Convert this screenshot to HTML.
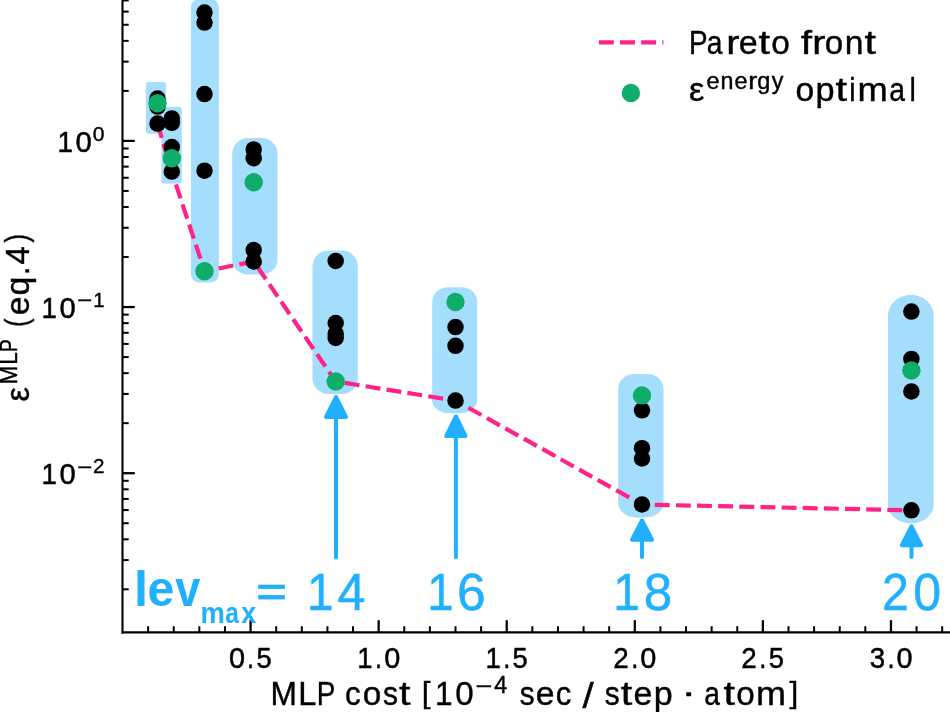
<!DOCTYPE html><html><head><meta charset="utf-8"><style>html,body{margin:0;padding:0;background:#fff;overflow:hidden}svg{display:block;will-change:transform}text{font-family:"Liberation Sans",sans-serif}</style></head><body>
<svg width="950" height="712" viewBox="0 0 950 712">
<rect width="950" height="712" fill="#fff"/>
<path d="M148.40,82.10 L163.50,82.10 C164.88,82.10 166.00,83.22 166.00,84.60 L166.00,131.30 C166.00,132.68 164.88,133.80 163.50,133.80 L148.40,133.80 C147.02,133.80 145.90,132.68 145.90,131.30 L145.90,84.60 C145.90,83.22 147.02,82.10 148.40,82.10 Z" fill="#a5defc"/>
<path d="M163.90,106.80 L179.30,106.80 C180.68,106.80 181.80,107.92 181.80,109.30 L181.80,180.90 C181.80,182.28 180.68,183.40 179.30,183.40 L163.90,183.40 C162.52,183.40 161.40,182.28 161.40,180.90 L161.40,109.30 C161.40,107.92 162.52,106.80 163.90,106.80 Z" fill="#a5defc"/>
<path d="M199.90,-1.50 L209.80,-1.50 C214.77,-1.50 218.80,2.53 218.80,7.50 L218.80,274.00 C218.80,278.69 214.99,282.50 210.30,282.50 L199.40,282.50 C194.71,282.50 190.90,278.69 190.90,274.00 L190.90,7.50 C190.90,2.53 194.93,-1.50 199.90,-1.50 Z" fill="#a5defc"/>
<path d="M247.70,137.90 L262.00,137.90 C270.56,137.90 277.50,145.06 277.50,153.90 L277.50,260.10 C277.50,268.11 270.34,274.60 261.50,274.60 L248.20,274.60 C239.36,274.60 232.20,268.11 232.20,260.10 L232.20,153.90 C232.20,145.06 239.14,137.90 247.70,137.90 Z" fill="#a5defc"/>
<path d="M327.50,250.50 L342.80,250.50 C351.08,250.50 357.80,257.89 357.80,267.00 L357.80,378.50 C357.80,387.06 350.64,394.00 341.80,394.00 L328.50,394.00 C319.66,394.00 312.50,387.06 312.50,378.50 L312.50,267.00 C312.50,257.89 319.22,250.50 327.50,250.50 Z" fill="#a5defc"/>
<path d="M447.70,287.30 L461.70,287.30 C470.26,287.30 477.20,293.79 477.20,301.80 L477.20,400.30 C477.20,407.48 469.59,413.30 460.20,413.30 L449.20,413.30 C439.81,413.30 432.20,407.48 432.20,400.30 L432.20,301.80 C432.20,293.79 439.14,287.30 447.70,287.30 Z" fill="#a5defc"/>
<path d="M634.20,373.90 L647.50,373.90 C656.34,373.90 663.50,380.62 663.50,388.90 L663.50,503.00 C663.50,511.01 655.44,517.50 645.50,517.50 L636.20,517.50 C626.26,517.50 618.20,511.01 618.20,503.00 L618.20,388.90 C618.20,380.62 625.36,373.90 634.20,373.90 Z" fill="#a5defc"/>
<path d="M910.00,295.10 L911.70,295.10 C923.85,295.10 933.70,304.50 933.70,316.10 L933.70,504.40 C933.70,514.89 923.49,523.40 910.90,523.40 L910.80,523.40 C898.21,523.40 888.00,514.89 888.00,504.40 L888.00,316.10 C888.00,304.50 897.85,295.10 910.00,295.10 Z" fill="#a5defc"/>
<polyline points="157.5,123.6 171.7,171.6 204.6,271.2 253.8,261.5 335.7,381.5 455.6,400.6 641.9,504.5 911.4,510.3" fill="none" stroke="#ff2288" stroke-width="4.2" stroke-dasharray="14.9 6.25" stroke-linejoin="round"/>
<circle cx="157.5" cy="98.6" r="8.25" fill="#000"/>
<circle cx="157.5" cy="106.6" r="8.25" fill="#000"/>
<circle cx="157.5" cy="123.6" r="8.25" fill="#000"/>
<circle cx="171.8" cy="118.4" r="8.25" fill="#000"/>
<circle cx="171.8" cy="122.8" r="8.25" fill="#000"/>
<circle cx="171.8" cy="147.0" r="8.25" fill="#000"/>
<circle cx="171.8" cy="171.6" r="8.25" fill="#000"/>
<circle cx="204.5" cy="12.5" r="8.25" fill="#000"/>
<circle cx="204.5" cy="22.6" r="8.25" fill="#000"/>
<circle cx="204.5" cy="94.1" r="8.25" fill="#000"/>
<circle cx="204.5" cy="170.7" r="8.25" fill="#000"/>
<circle cx="253.7" cy="149.4" r="8.25" fill="#000"/>
<circle cx="253.7" cy="158.2" r="8.25" fill="#000"/>
<circle cx="253.7" cy="250.1" r="8.25" fill="#000"/>
<circle cx="253.7" cy="261.5" r="8.25" fill="#000"/>
<circle cx="335.7" cy="260.9" r="8.25" fill="#000"/>
<circle cx="335.7" cy="323.0" r="8.25" fill="#000"/>
<circle cx="335.7" cy="333.6" r="8.25" fill="#000"/>
<circle cx="335.7" cy="337.9" r="8.25" fill="#000"/>
<circle cx="455.5" cy="327.1" r="8.25" fill="#000"/>
<circle cx="455.5" cy="345.8" r="8.25" fill="#000"/>
<circle cx="455.5" cy="400.6" r="8.25" fill="#000"/>
<circle cx="642.0" cy="410.3" r="8.25" fill="#000"/>
<circle cx="642.0" cy="448.2" r="8.25" fill="#000"/>
<circle cx="642.0" cy="458.5" r="8.25" fill="#000"/>
<circle cx="642.0" cy="504.5" r="8.25" fill="#000"/>
<circle cx="911.4" cy="311.6" r="8.25" fill="#000"/>
<circle cx="911.4" cy="358.9" r="8.25" fill="#000"/>
<circle cx="911.4" cy="391.4" r="8.25" fill="#000"/>
<circle cx="911.4" cy="510.3" r="8.25" fill="#000"/>
<circle cx="157.5" cy="103.3" r="9.2" fill="#10ac69"/>
<circle cx="171.8" cy="158.3" r="9.2" fill="#10ac69"/>
<circle cx="204.5" cy="271.2" r="9.2" fill="#10ac69"/>
<circle cx="253.7" cy="182.2" r="9.2" fill="#10ac69"/>
<circle cx="335.7" cy="381.5" r="9.2" fill="#10ac69"/>
<circle cx="455.5" cy="302.0" r="9.2" fill="#10ac69"/>
<circle cx="642.0" cy="395.4" r="9.2" fill="#10ac69"/>
<circle cx="911.4" cy="370.5" r="9.2" fill="#10ac69"/>
<line x1="336.0" y1="557.5" x2="336.0" y2="415.9" stroke="#20b0ff" stroke-width="4" stroke-linecap="round"/>
<polygon points="336.0,397.1 326.0,416.9 346.0,416.9" fill="#20b0ff" stroke="#20b0ff" stroke-width="4" stroke-linejoin="round"/>
<line x1="455.9" y1="557.3" x2="455.9" y2="435.1" stroke="#20b0ff" stroke-width="4" stroke-linecap="round"/>
<polygon points="455.9,416.5 446.2,436.1 465.59999999999997,436.1" fill="#20b0ff" stroke="#20b0ff" stroke-width="4" stroke-linejoin="round"/>
<line x1="642.0" y1="557.1" x2="642.0" y2="538.7" stroke="#20b0ff" stroke-width="4" stroke-linecap="round"/>
<polygon points="642.0,520.5 632.0,539.7 652.0,539.7" fill="#20b0ff" stroke="#20b0ff" stroke-width="4" stroke-linejoin="round"/>
<line x1="911.5" y1="556.9" x2="911.5" y2="544.2" stroke="#20b0ff" stroke-width="4" stroke-linecap="round"/>
<polygon points="911.5,526.4 901.9,545.2 921.1,545.2" fill="#20b0ff" stroke="#20b0ff" stroke-width="4" stroke-linejoin="round"/>
<g stroke="#000" fill="none">
<line x1="122.5" y1="0" x2="122.5" y2="633.5" stroke-width="2.1"/>
<line x1="121.45" y1="632.4" x2="950" y2="632.4" stroke-width="2.1"/>
<line x1="148.12" y1="632.4" x2="148.12" y2="626.2" stroke-width="2.0"/>
<line x1="173.73" y1="632.4" x2="173.73" y2="626.2" stroke-width="2.0"/>
<line x1="199.34" y1="632.4" x2="199.34" y2="626.2" stroke-width="2.0"/>
<line x1="224.96" y1="632.4" x2="224.96" y2="626.2" stroke-width="2.0"/>
<line x1="250.57" y1="632.4" x2="250.57" y2="620.2" stroke-width="2.25"/>
<line x1="276.19" y1="632.4" x2="276.19" y2="626.2" stroke-width="2.0"/>
<line x1="301.80" y1="632.4" x2="301.80" y2="626.2" stroke-width="2.0"/>
<line x1="327.42" y1="632.4" x2="327.42" y2="626.2" stroke-width="2.0"/>
<line x1="353.03" y1="632.4" x2="353.03" y2="626.2" stroke-width="2.0"/>
<line x1="378.65" y1="632.4" x2="378.65" y2="620.2" stroke-width="2.25"/>
<line x1="404.26" y1="632.4" x2="404.26" y2="626.2" stroke-width="2.0"/>
<line x1="429.88" y1="632.4" x2="429.88" y2="626.2" stroke-width="2.0"/>
<line x1="455.50" y1="632.4" x2="455.50" y2="626.2" stroke-width="2.0"/>
<line x1="481.11" y1="632.4" x2="481.11" y2="626.2" stroke-width="2.0"/>
<line x1="506.72" y1="632.4" x2="506.72" y2="620.2" stroke-width="2.25"/>
<line x1="532.34" y1="632.4" x2="532.34" y2="626.2" stroke-width="2.0"/>
<line x1="557.95" y1="632.4" x2="557.95" y2="626.2" stroke-width="2.0"/>
<line x1="583.57" y1="632.4" x2="583.57" y2="626.2" stroke-width="2.0"/>
<line x1="609.18" y1="632.4" x2="609.18" y2="626.2" stroke-width="2.0"/>
<line x1="634.80" y1="632.4" x2="634.80" y2="620.2" stroke-width="2.25"/>
<line x1="660.41" y1="632.4" x2="660.41" y2="626.2" stroke-width="2.0"/>
<line x1="686.03" y1="632.4" x2="686.03" y2="626.2" stroke-width="2.0"/>
<line x1="711.64" y1="632.4" x2="711.64" y2="626.2" stroke-width="2.0"/>
<line x1="737.26" y1="632.4" x2="737.26" y2="626.2" stroke-width="2.0"/>
<line x1="762.88" y1="632.4" x2="762.88" y2="620.2" stroke-width="2.25"/>
<line x1="788.49" y1="632.4" x2="788.49" y2="626.2" stroke-width="2.0"/>
<line x1="814.11" y1="632.4" x2="814.11" y2="626.2" stroke-width="2.0"/>
<line x1="839.72" y1="632.4" x2="839.72" y2="626.2" stroke-width="2.0"/>
<line x1="865.33" y1="632.4" x2="865.33" y2="626.2" stroke-width="2.0"/>
<line x1="890.95" y1="632.4" x2="890.95" y2="620.2" stroke-width="2.25"/>
<line x1="916.56" y1="632.4" x2="916.56" y2="626.2" stroke-width="2.0"/>
<line x1="942.18" y1="632.4" x2="942.18" y2="626.2" stroke-width="2.0"/>
<line x1="122.5" y1="589.33" x2="128.70" y2="589.33" stroke-width="2.0"/>
<line x1="122.5" y1="560.08" x2="128.70" y2="560.08" stroke-width="2.0"/>
<line x1="122.5" y1="539.32" x2="128.70" y2="539.32" stroke-width="2.0"/>
<line x1="122.5" y1="523.22" x2="128.70" y2="523.22" stroke-width="2.0"/>
<line x1="122.5" y1="510.06" x2="128.70" y2="510.06" stroke-width="2.0"/>
<line x1="122.5" y1="498.94" x2="128.70" y2="498.94" stroke-width="2.0"/>
<line x1="122.5" y1="489.30" x2="128.70" y2="489.30" stroke-width="2.0"/>
<line x1="122.5" y1="480.80" x2="128.70" y2="480.80" stroke-width="2.0"/>
<line x1="122.5" y1="473.20" x2="134.80" y2="473.20" stroke-width="2.25"/>
<line x1="122.5" y1="423.18" x2="128.70" y2="423.18" stroke-width="2.0"/>
<line x1="122.5" y1="393.93" x2="128.70" y2="393.93" stroke-width="2.0"/>
<line x1="122.5" y1="373.17" x2="128.70" y2="373.17" stroke-width="2.0"/>
<line x1="122.5" y1="357.07" x2="128.70" y2="357.07" stroke-width="2.0"/>
<line x1="122.5" y1="343.91" x2="128.70" y2="343.91" stroke-width="2.0"/>
<line x1="122.5" y1="332.79" x2="128.70" y2="332.79" stroke-width="2.0"/>
<line x1="122.5" y1="323.15" x2="128.70" y2="323.15" stroke-width="2.0"/>
<line x1="122.5" y1="314.65" x2="128.70" y2="314.65" stroke-width="2.0"/>
<line x1="122.5" y1="307.05" x2="134.80" y2="307.05" stroke-width="2.25"/>
<line x1="122.5" y1="257.03" x2="128.70" y2="257.03" stroke-width="2.0"/>
<line x1="122.5" y1="227.78" x2="128.70" y2="227.78" stroke-width="2.0"/>
<line x1="122.5" y1="207.02" x2="128.70" y2="207.02" stroke-width="2.0"/>
<line x1="122.5" y1="190.92" x2="128.70" y2="190.92" stroke-width="2.0"/>
<line x1="122.5" y1="177.76" x2="128.70" y2="177.76" stroke-width="2.0"/>
<line x1="122.5" y1="166.64" x2="128.70" y2="166.64" stroke-width="2.0"/>
<line x1="122.5" y1="157.00" x2="128.70" y2="157.00" stroke-width="2.0"/>
<line x1="122.5" y1="148.50" x2="128.70" y2="148.50" stroke-width="2.0"/>
<line x1="122.5" y1="140.90" x2="134.80" y2="140.90" stroke-width="2.25"/>
<line x1="122.5" y1="90.88" x2="128.70" y2="90.88" stroke-width="2.0"/>
<line x1="122.5" y1="61.63" x2="128.70" y2="61.63" stroke-width="2.0"/>
<line x1="122.5" y1="40.87" x2="128.70" y2="40.87" stroke-width="2.0"/>
<line x1="122.5" y1="24.77" x2="128.70" y2="24.77" stroke-width="2.0"/>
<line x1="122.5" y1="11.61" x2="128.70" y2="11.61" stroke-width="2.0"/>
<line x1="122.5" y1="0.49" x2="128.70" y2="0.49" stroke-width="2.0"/>
</g>
<text y="667.60" font-size="30.09" font-weight="normal" fill="#000" stroke="#000" stroke-width="0.5"><tspan x="228.99" textLength="16.07" lengthAdjust="spacingAndGlyphs">0</tspan><tspan x="247.02" textLength="7.08" lengthAdjust="spacingAndGlyphs">.</tspan><tspan x="256.44" textLength="15.13" lengthAdjust="spacingAndGlyphs">5</tspan></text>
<text y="667.60" font-size="30.09" font-weight="normal" fill="#000" stroke="#000" stroke-width="0.5"><tspan x="357.35" textLength="15.26" lengthAdjust="spacingAndGlyphs">1</tspan><tspan x="375.10" textLength="7.08" lengthAdjust="spacingAndGlyphs">.</tspan><tspan x="384.16" textLength="16.07" lengthAdjust="spacingAndGlyphs">0</tspan></text>
<text y="667.60" font-size="30.09" font-weight="normal" fill="#000" stroke="#000" stroke-width="0.5"><tspan x="485.42" textLength="15.26" lengthAdjust="spacingAndGlyphs">1</tspan><tspan x="503.17" textLength="7.08" lengthAdjust="spacingAndGlyphs">.</tspan><tspan x="512.59" textLength="15.13" lengthAdjust="spacingAndGlyphs">5</tspan></text>
<text y="667.60" font-size="30.09" font-weight="normal" fill="#000" stroke="#000" stroke-width="0.5"><tspan x="613.15" textLength="15.44" lengthAdjust="spacingAndGlyphs">2</tspan><tspan x="631.25" textLength="7.08" lengthAdjust="spacingAndGlyphs">.</tspan><tspan x="640.31" textLength="16.07" lengthAdjust="spacingAndGlyphs">0</tspan></text>
<text y="667.60" font-size="30.09" font-weight="normal" fill="#000" stroke="#000" stroke-width="0.5"><tspan x="741.23" textLength="15.44" lengthAdjust="spacingAndGlyphs">2</tspan><tspan x="759.32" textLength="7.08" lengthAdjust="spacingAndGlyphs">.</tspan><tspan x="768.74" textLength="15.13" lengthAdjust="spacingAndGlyphs">5</tspan></text>
<text y="667.60" font-size="30.09" font-weight="normal" fill="#000" stroke="#000" stroke-width="0.5"><tspan x="869.73" textLength="15.40" lengthAdjust="spacingAndGlyphs">3</tspan><tspan x="887.40" textLength="7.08" lengthAdjust="spacingAndGlyphs">.</tspan><tspan x="896.46" textLength="16.07" lengthAdjust="spacingAndGlyphs">0</tspan></text>
<text y="151.60" font-size="30.09" font-weight="normal" fill="#000" stroke="#000" stroke-width="0.5"><tspan x="57.53" textLength="15.50" lengthAdjust="spacingAndGlyphs">1</tspan><tspan x="75.58" textLength="16.32" lengthAdjust="spacingAndGlyphs">0</tspan></text>
<text y="140.50" font-size="21.06" font-weight="normal" fill="#000" stroke="#000" stroke-width="0.4"><tspan x="92.87" textLength="11.75" lengthAdjust="spacingAndGlyphs">0</tspan></text>
<text y="317.60" font-size="30.09" font-weight="normal" fill="#000" stroke="#000" stroke-width="0.5"><tspan x="41.44" textLength="15.39" lengthAdjust="spacingAndGlyphs">1</tspan><tspan x="59.38" textLength="16.21" lengthAdjust="spacingAndGlyphs">0</tspan></text>
<text y="306.80" font-size="21.06" font-weight="normal" fill="#000" stroke="#000" stroke-width="0.4"><tspan x="77.24" y="306.40" font-size="17.54" textLength="14.90" lengthAdjust="spacingAndGlyphs">−</tspan></text>
<text y="306.80" font-size="21.06" font-weight="normal" fill="#000" stroke="#000" stroke-width="0.4"><tspan x="93.35" textLength="11.35" lengthAdjust="spacingAndGlyphs">1</tspan></text>
<text y="483.80" font-size="30.09" font-weight="normal" fill="#000" stroke="#000" stroke-width="0.5"><tspan x="41.44" textLength="15.39" lengthAdjust="spacingAndGlyphs">1</tspan><tspan x="59.38" textLength="16.21" lengthAdjust="spacingAndGlyphs">0</tspan></text>
<text y="472.90" font-size="21.06" font-weight="normal" fill="#000" stroke="#000" stroke-width="0.4"><tspan x="77.24" y="472.50" font-size="17.54" textLength="14.90" lengthAdjust="spacingAndGlyphs">−</tspan></text>
<text y="472.90" font-size="21.06" font-weight="normal" fill="#000" stroke="#000" stroke-width="0.4"><tspan x="93.06" textLength="11.48" lengthAdjust="spacingAndGlyphs">2</tspan></text>
<line x1="598.9" y1="42.3" x2="663.4" y2="42.3" stroke="#ff2288" stroke-width="4.2" stroke-dasharray="14.9 6.25"/>
<text y="53.90" font-size="33.59" font-weight="normal" fill="#000" stroke="#000" stroke-width="0.4"><tspan x="688.92" textLength="18.56" lengthAdjust="spacingAndGlyphs">P</tspan><tspan x="706.80" textLength="15.73" lengthAdjust="spacingAndGlyphs">a</tspan><tspan x="726.16" textLength="13.26" lengthAdjust="spacingAndGlyphs">r</tspan><tspan x="738.78" textLength="18.94" lengthAdjust="spacingAndGlyphs">e</tspan><tspan x="758.56" textLength="11.56" lengthAdjust="spacingAndGlyphs">t</tspan><tspan x="771.37" textLength="18.64" lengthAdjust="spacingAndGlyphs">o</tspan></text>
<text y="53.90" font-size="33.59" font-weight="normal" fill="#000" stroke="#000" stroke-width="0.4"><tspan x="800.72" textLength="11.28" lengthAdjust="spacingAndGlyphs">f</tspan><tspan x="812.15" textLength="13.15" lengthAdjust="spacingAndGlyphs">r</tspan><tspan x="824.71" textLength="18.49" lengthAdjust="spacingAndGlyphs">o</tspan><tspan x="844.64" textLength="18.71" lengthAdjust="spacingAndGlyphs">n</tspan><tspan x="864.53" textLength="11.48" lengthAdjust="spacingAndGlyphs">t</tspan></text>
<circle cx="630.9" cy="92.9" r="9.2" fill="#10ac69"/>
<text y="101.00" font-size="33.59" font-weight="normal" fill="#000" stroke="#000" stroke-width="0.4"><tspan x="689.12" textLength="15.33" lengthAdjust="spacingAndGlyphs">ε</tspan></text>
<text y="89.00" font-size="23.51" font-weight="normal" fill="#000" stroke="#000" stroke-width="0.4"><tspan x="706.40" textLength="13.03" lengthAdjust="spacingAndGlyphs">e</tspan><tspan x="720.48" textLength="12.95" lengthAdjust="spacingAndGlyphs">n</tspan><tspan x="734.48" textLength="13.03" lengthAdjust="spacingAndGlyphs">e</tspan><tspan x="748.29" textLength="9.06" lengthAdjust="spacingAndGlyphs">r</tspan><tspan x="757.15" textLength="13.09" lengthAdjust="spacingAndGlyphs">g</tspan><tspan x="771.78" textLength="11.66" lengthAdjust="spacingAndGlyphs">y</tspan></text>
<text y="101.00" font-size="33.59" font-weight="normal" fill="#000" stroke="#000" stroke-width="0.4"><tspan x="795.39" textLength="18.67" lengthAdjust="spacingAndGlyphs">o</tspan><tspan x="815.55" textLength="19.09" lengthAdjust="spacingAndGlyphs">p</tspan><tspan x="835.61" textLength="11.59" lengthAdjust="spacingAndGlyphs">t</tspan><tspan x="849.21" textLength="6.34" lengthAdjust="spacingAndGlyphs">i</tspan><tspan x="857.59" textLength="30.25" lengthAdjust="spacingAndGlyphs">m</tspan><tspan x="889.34" textLength="15.76" lengthAdjust="spacingAndGlyphs">a</tspan><tspan x="909.57" textLength="6.34" lengthAdjust="spacingAndGlyphs">l</tspan></text>
<text y="705.40" font-size="33.91" font-weight="normal" fill="#000" stroke="#000" stroke-width="0.4"><tspan x="270.50" y="705.40" textLength="26.39" lengthAdjust="spacingAndGlyphs">M</tspan><tspan x="298.37" y="705.40" textLength="18.02" lengthAdjust="spacingAndGlyphs">L</tspan><tspan x="316.78" y="705.40" textLength="18.59" lengthAdjust="spacingAndGlyphs">P</tspan></text>
<text y="705.40" font-size="33.91" font-weight="normal" fill="#000" stroke="#000" stroke-width="0.4"><tspan x="345.07" y="705.40" textLength="15.70" lengthAdjust="spacingAndGlyphs">c</tspan><tspan x="362.71" y="705.40" textLength="18.58" lengthAdjust="spacingAndGlyphs">o</tspan><tspan x="382.96" y="705.40" textLength="14.98" lengthAdjust="spacingAndGlyphs">s</tspan><tspan x="399.07" y="705.40" textLength="11.53" lengthAdjust="spacingAndGlyphs">t</tspan></text>
<text y="705.40" font-size="33.91" font-weight="normal" fill="#000" stroke="#000" stroke-width="0.4"><tspan x="421.74" y="703.20" font-size="30.36" textLength="8.79" lengthAdjust="spacingAndGlyphs">[</tspan><tspan x="434.97" y="705.40" textLength="17.58" lengthAdjust="spacingAndGlyphs">1</tspan><tspan x="455.22" y="705.40" textLength="18.48" lengthAdjust="spacingAndGlyphs">0</tspan></text>
<text y="705.40" font-size="33.91" font-weight="normal" fill="#000" stroke="#000" stroke-width="0.4"><tspan x="519.77" y="705.40" textLength="14.87" lengthAdjust="spacingAndGlyphs">s</tspan><tspan x="535.86" y="705.40" textLength="18.74" lengthAdjust="spacingAndGlyphs">e</tspan><tspan x="555.64" y="705.40" textLength="15.58" lengthAdjust="spacingAndGlyphs">c</tspan></text>
<text y="705.40" font-size="33.91" font-weight="normal" fill="#000" stroke="#000" stroke-width="0.4"><tspan x="582.40" y="707.82" font-size="35.26" textLength="11.20" lengthAdjust="spacingAndGlyphs">/</tspan></text>
<text y="705.40" font-size="33.91" font-weight="normal" fill="#000" stroke="#000" stroke-width="0.4"><tspan x="604.77" y="705.40" textLength="14.94" lengthAdjust="spacingAndGlyphs">s</tspan><tspan x="620.83" y="705.40" textLength="11.50" lengthAdjust="spacingAndGlyphs">t</tspan><tspan x="633.53" y="705.40" textLength="18.83" lengthAdjust="spacingAndGlyphs">e</tspan><tspan x="653.68" y="705.40" textLength="18.95" lengthAdjust="spacingAndGlyphs">p</tspan></text>
<text y="705.40" font-size="33.91" font-weight="normal" fill="#000" stroke="#000" stroke-width="0.4"><tspan x="681.24" y="703.31" font-size="33.22" textLength="15.04" lengthAdjust="spacingAndGlyphs">·</tspan></text>
<text y="705.40" font-size="33.91" font-weight="normal" fill="#000" stroke="#000" stroke-width="0.4"><tspan x="704.21" y="705.40" textLength="15.64" lengthAdjust="spacingAndGlyphs">a</tspan><tspan x="723.40" y="705.40" textLength="11.50" lengthAdjust="spacingAndGlyphs">t</tspan><tspan x="736.14" y="705.40" textLength="18.53" lengthAdjust="spacingAndGlyphs">o</tspan><tspan x="755.95" y="705.40" textLength="30.02" lengthAdjust="spacingAndGlyphs">m</tspan><tspan x="789.60" y="703.17" font-size="30.04" textLength="8.74" lengthAdjust="spacingAndGlyphs">]</tspan></text>
<text y="692.90" font-size="23.73" font-weight="normal" fill="#000" stroke="#000" stroke-width="0.4"><tspan x="475.59" y="692.69" font-size="20.47" textLength="16.72" lengthAdjust="spacingAndGlyphs">−</tspan><tspan x="494.32" y="692.90" textLength="12.97" lengthAdjust="spacingAndGlyphs">4</tspan></text>
<g transform="rotate(-90)"><text y="29.00" font-size="33.91" font-weight="normal" fill="#000" stroke="#000" stroke-width="0.4"><tspan x="-401.41" textLength="14.42" lengthAdjust="spacingAndGlyphs">ε</tspan></text></g>
<g transform="rotate(-90)"><text y="17.00" font-size="23.73" font-weight="normal" fill="#000" stroke="#000" stroke-width="0.4"><tspan x="-384.30" textLength="18.30" lengthAdjust="spacingAndGlyphs">M</tspan><tspan x="-364.80" textLength="12.45" lengthAdjust="spacingAndGlyphs">L</tspan><tspan x="-351.94" textLength="12.85" lengthAdjust="spacingAndGlyphs">P</tspan></text></g>
<g transform="rotate(-90)"><text y="29.00" font-size="33.91" font-weight="normal" fill="#000" stroke="#000" stroke-width="0.4"><tspan x="-326.88" y="26.58" font-size="31.02" textLength="8.51" lengthAdjust="spacingAndGlyphs">(</tspan><tspan x="-315.23" y="29.00" textLength="18.75" lengthAdjust="spacingAndGlyphs">e</tspan><tspan x="-295.53" y="29.00" textLength="18.83" lengthAdjust="spacingAndGlyphs">q</tspan><tspan x="-274.92" y="29.00" textLength="8.45" lengthAdjust="spacingAndGlyphs">.</tspan><tspan x="-264.59" y="29.00" textLength="18.32" lengthAdjust="spacingAndGlyphs">4</tspan><tspan x="-242.62" y="26.58" font-size="31.02" textLength="8.51" lengthAdjust="spacingAndGlyphs">)</tspan></text></g>
<text y="605.80" font-size="50.37" font-weight="bold" fill="#20b0ff"><tspan x="133.96" textLength="14.08" lengthAdjust="spacingAndGlyphs">l</tspan><tspan x="147.61" textLength="26.88" lengthAdjust="spacingAndGlyphs">e</tspan><tspan x="175.19" textLength="25.11" lengthAdjust="spacingAndGlyphs">v</tspan></text>
<text y="623.00" font-size="29.46" font-weight="bold" fill="#20b0ff"><tspan x="200.39" textLength="24.38" lengthAdjust="spacingAndGlyphs">m</tspan><tspan x="225.25" textLength="13.69" lengthAdjust="spacingAndGlyphs">a</tspan><tspan x="241.13" textLength="14.96" lengthAdjust="spacingAndGlyphs">x</tspan></text>
<rect x="258.2" y="584.7" width="26.7" height="4.2" fill="#20b0ff"/><rect x="258.2" y="595.1" width="26.7" height="4.3" fill="#20b0ff"/>
<text y="610.10" font-size="51.50" font-weight="normal" fill="#20b0ff" stroke="#20b0ff" stroke-width="0.5"><tspan x="307.00" textLength="26.63" lengthAdjust="spacingAndGlyphs">1</tspan><tspan x="337.51" textLength="28.01" lengthAdjust="spacingAndGlyphs">4</tspan></text>
<text y="610.30" font-size="51.50" font-weight="normal" fill="#20b0ff" stroke="#20b0ff" stroke-width="0.5"><tspan x="427.34" textLength="26.39" lengthAdjust="spacingAndGlyphs">1</tspan><tspan x="457.12" textLength="28.70" lengthAdjust="spacingAndGlyphs">6</tspan></text>
<text y="610.30" font-size="51.50" font-weight="normal" fill="#20b0ff" stroke="#20b0ff" stroke-width="0.5"><tspan x="613.28" textLength="26.78" lengthAdjust="spacingAndGlyphs">1</tspan><tspan x="643.84" textLength="28.44" lengthAdjust="spacingAndGlyphs">8</tspan></text>
<text y="610.30" font-size="51.50" font-weight="normal" fill="#20b0ff" stroke="#20b0ff" stroke-width="0.5"><tspan x="882.12" textLength="26.88" lengthAdjust="spacingAndGlyphs">2</tspan><tspan x="913.18" textLength="27.93" lengthAdjust="spacingAndGlyphs">0</tspan></text>
</svg></body></html>
